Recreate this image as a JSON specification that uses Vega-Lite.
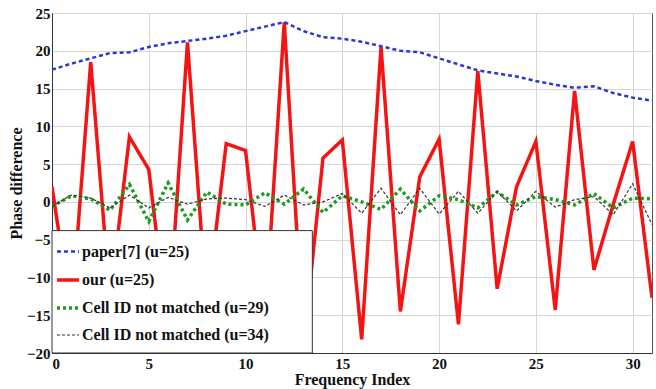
{
  "$schema": "https://vega.github.io/schema/vega-lite/v6.json",
  "autosize": {"type": "none"},
  "width": 600,
  "height": 340,
  "padding": {"left": 52, "top": 13, "right": 4, "bottom": 36},
  "background": "white",
  "config": {
    "view": {"stroke": "#555555", "strokeWidth": 1},
    "font": "Liberation Serif",
    "axis": {
      "labelFont": "Liberation Serif", "labelFontWeight": "bold", "labelFontSize": 15, "labelColor": "#111111",
      "titleFont": "Liberation Serif", "titleFontWeight": "bold", "titleFontSize": 16, "titleColor": "#111111",
      "gridColor": "#d6d6d6", "gridWidth": 1, "domainColor": "#333333", "tickSize": 0, "labelOverlap": false
    }
  },
  "datasets": {
    "pts": [
      {"x":0,"s":"our (u=25)","y":2.0},{"x":1,"s":"our (u=25)","y":-15},{"x":2,"s":"our (u=25)","y":18.5},{"x":3,"s":"our (u=25)","y":-13},
      {"x":4,"s":"our (u=25)","y":8.6},{"x":5,"s":"our (u=25)","y":4.3},{"x":6,"s":"our (u=25)","y":-17},{"x":7,"s":"our (u=25)","y":21.1},
      {"x":8,"s":"our (u=25)","y":-14},{"x":9,"s":"our (u=25)","y":7.7},{"x":10,"s":"our (u=25)","y":6.8},{"x":11,"s":"our (u=25)","y":-16},
      {"x":12,"s":"our (u=25)","y":23.8},{"x":13,"s":"our (u=25)","y":-19},{"x":14,"s":"our (u=25)","y":5.8},{"x":15,"s":"our (u=25)","y":8.2},
      {"x":16,"s":"our (u=25)","y":-18.2},{"x":17,"s":"our (u=25)","y":20.5},{"x":18,"s":"our (u=25)","y":-14.5},{"x":19,"s":"our (u=25)","y":3.3},
      {"x":20,"s":"our (u=25)","y":8.3},{"x":21,"s":"our (u=25)","y":-16.2},{"x":22,"s":"our (u=25)","y":17.3},{"x":23,"s":"our (u=25)","y":-11.5},
      {"x":24,"s":"our (u=25)","y":2.0},{"x":25,"s":"our (u=25)","y":8.0},{"x":26,"s":"our (u=25)","y":-14.3},{"x":27,"s":"our (u=25)","y":14.7},
      {"x":28,"s":"our (u=25)","y":-9.0},{"x":29,"s":"our (u=25)","y":-0.3},{"x":30,"s":"our (u=25)","y":8.0},{"x":31,"s":"our (u=25)","y":-12.7},

      {"x":0,"s":"paper[7]  (u=25)","y":17.5},{"x":1,"s":"paper[7]  (u=25)","y":18.3},{"x":2,"s":"paper[7]  (u=25)","y":19.0},{"x":3,"s":"paper[7]  (u=25)","y":19.7},
      {"x":4,"s":"paper[7]  (u=25)","y":19.8},{"x":5,"s":"paper[7]  (u=25)","y":20.5},{"x":6,"s":"paper[7]  (u=25)","y":21.0},{"x":7,"s":"paper[7]  (u=25)","y":21.3},
      {"x":8,"s":"paper[7]  (u=25)","y":21.6},{"x":9,"s":"paper[7]  (u=25)","y":22.0},{"x":10,"s":"paper[7]  (u=25)","y":22.6},{"x":11,"s":"paper[7]  (u=25)","y":23.2},
      {"x":12,"s":"paper[7]  (u=25)","y":23.8},{"x":13,"s":"paper[7]  (u=25)","y":22.6},{"x":14,"s":"paper[7]  (u=25)","y":21.8},{"x":15,"s":"paper[7]  (u=25)","y":21.6},
      {"x":16,"s":"paper[7]  (u=25)","y":21.2},{"x":17,"s":"paper[7]  (u=25)","y":20.6},{"x":18,"s":"paper[7]  (u=25)","y":20.0},{"x":19,"s":"paper[7]  (u=25)","y":19.8},
      {"x":20,"s":"paper[7]  (u=25)","y":19.0},{"x":21,"s":"paper[7]  (u=25)","y":18.2},{"x":22,"s":"paper[7]  (u=25)","y":17.4},{"x":23,"s":"paper[7]  (u=25)","y":17.0},
      {"x":24,"s":"paper[7]  (u=25)","y":16.6},{"x":25,"s":"paper[7]  (u=25)","y":16.0},{"x":26,"s":"paper[7]  (u=25)","y":15.5},{"x":27,"s":"paper[7]  (u=25)","y":15.1},
      {"x":28,"s":"paper[7]  (u=25)","y":15.3},{"x":29,"s":"paper[7]  (u=25)","y":14.4},{"x":30,"s":"paper[7]  (u=25)","y":13.8},{"x":31,"s":"paper[7]  (u=25)","y":13.4},

      {"x":0,"s":"Cell ID not matched (u=29)","y":-0.6},{"x":1,"s":"Cell ID not matched (u=29)","y":0.8},{"x":2,"s":"Cell ID not matched (u=29)","y":0.4},{"x":3,"s":"Cell ID not matched (u=29)","y":-1.1},
      {"x":4,"s":"Cell ID not matched (u=29)","y":2.3},{"x":5,"s":"Cell ID not matched (u=29)","y":-2.6},{"x":6,"s":"Cell ID not matched (u=29)","y":2.5},{"x":7,"s":"Cell ID not matched (u=29)","y":-2.4},
      {"x":8,"s":"Cell ID not matched (u=29)","y":1.3},{"x":9,"s":"Cell ID not matched (u=29)","y":-0.3},{"x":10,"s":"Cell ID not matched (u=29)","y":-0.4},{"x":11,"s":"Cell ID not matched (u=29)","y":1.2},
      {"x":12,"s":"Cell ID not matched (u=29)","y":-0.3},{"x":13,"s":"Cell ID not matched (u=29)","y":1.7},{"x":14,"s":"Cell ID not matched (u=29)","y":-1.4},{"x":15,"s":"Cell ID not matched (u=29)","y":0.8},
      {"x":16,"s":"Cell ID not matched (u=29)","y":0.0},{"x":17,"s":"Cell ID not matched (u=29)","y":-1.0},{"x":18,"s":"Cell ID not matched (u=29)","y":1.7},{"x":19,"s":"Cell ID not matched (u=29)","y":-1.2},
      {"x":20,"s":"Cell ID not matched (u=29)","y":0.8},{"x":21,"s":"Cell ID not matched (u=29)","y":0.3},{"x":22,"s":"Cell ID not matched (u=29)","y":-0.8},{"x":23,"s":"Cell ID not matched (u=29)","y":1.3},
      {"x":24,"s":"Cell ID not matched (u=29)","y":-0.4},{"x":25,"s":"Cell ID not matched (u=29)","y":0.7},{"x":26,"s":"Cell ID not matched (u=29)","y":0.3},{"x":27,"s":"Cell ID not matched (u=29)","y":-0.4},
      {"x":28,"s":"Cell ID not matched (u=29)","y":1.1},{"x":29,"s":"Cell ID not matched (u=29)","y":-0.8},{"x":30,"s":"Cell ID not matched (u=29)","y":0.5},{"x":31,"s":"Cell ID not matched (u=29)","y":0.4},

      {"x":0,"s":"Cell ID not matched (u=34)","y":-0.6},{"x":1,"s":"Cell ID not matched (u=34)","y":0.9},{"x":2,"s":"Cell ID not matched (u=34)","y":0.5},{"x":3,"s":"Cell ID not matched (u=34)","y":-0.8},
      {"x":4,"s":"Cell ID not matched (u=34)","y":0.9},{"x":5,"s":"Cell ID not matched (u=34)","y":-0.8},{"x":6,"s":"Cell ID not matched (u=34)","y":0.6},{"x":7,"s":"Cell ID not matched (u=34)","y":-0.3},
      {"x":8,"s":"Cell ID not matched (u=34)","y":0.4},{"x":9,"s":"Cell ID not matched (u=34)","y":0.5},{"x":10,"s":"Cell ID not matched (u=34)","y":0.3},{"x":11,"s":"Cell ID not matched (u=34)","y":-0.6},
      {"x":12,"s":"Cell ID not matched (u=34)","y":0.9},{"x":13,"s":"Cell ID not matched (u=34)","y":-0.4},{"x":14,"s":"Cell ID not matched (u=34)","y":0.0},{"x":15,"s":"Cell ID not matched (u=34)","y":1.1},
      {"x":16,"s":"Cell ID not matched (u=34)","y":-1.5},{"x":17,"s":"Cell ID not matched (u=34)","y":1.8},{"x":18,"s":"Cell ID not matched (u=34)","y":-1.7},{"x":19,"s":"Cell ID not matched (u=34)","y":1.8},
      {"x":20,"s":"Cell ID not matched (u=34)","y":-1.6},{"x":21,"s":"Cell ID not matched (u=34)","y":1.4},{"x":22,"s":"Cell ID not matched (u=34)","y":-1.5},{"x":23,"s":"Cell ID not matched (u=34)","y":1.4},
      {"x":24,"s":"Cell ID not matched (u=34)","y":-1.2},{"x":25,"s":"Cell ID not matched (u=34)","y":1.4},{"x":26,"s":"Cell ID not matched (u=34)","y":-0.7},{"x":27,"s":"Cell ID not matched (u=34)","y":0.3},
      {"x":28,"s":"Cell ID not matched (u=34)","y":0.7},{"x":29,"s":"Cell ID not matched (u=34)","y":-1.7},{"x":30,"s":"Cell ID not matched (u=34)","y":2.4},{"x":31,"s":"Cell ID not matched (u=34)","y":-3.0}
    ]
  },
  "layer": [
    {
      "data": {"name": "pts"},
      "mark": {"type": "line", "strokeCap": "butt", "strokeJoin": "miter", "clip": true},
      "encoding": {
        "x": {"field": "x", "type": "quantitative", "scale": {"domain": [0, 31], "nice": false, "zero": false},
              "axis": {"title": "Frequency Index", "values": [0,5,10,15,20,25,30], "labelPadding": 3, "titlePadding": 0, "grid": true}},
        "y": {"field": "y", "type": "quantitative", "scale": {"domain": [-20, 25], "nice": false},
              "axis": {"title": "Phase difference", "values": [-20,-15,-10,-5,0,5,10,15,20,25], "labelPadding": 2, "titlePadding": 2, "grid": true}},
        "detail": {"field": "s"},
        "color": {"field": "s", "type": "nominal",
          "scale": {"domain": ["paper[7]  (u=25)", "our (u=25)", "Cell ID not matched (u=29)", "Cell ID not matched (u=34)"],
                    "range": ["#2a35d8", "#f41414", "#1e9a1e", "#333333"]},
          "legend": {"title": null, "orient": "none", "legendX": 3, "legendY": 226, "padding": 0,
                     "labelFont": "Liberation Serif", "labelFontWeight": "bold", "labelFontSize": 16, "labelColor": "#111111",
                     "labelOffset": 1, "rowPadding": 7, "symbolType": "stroke", "symbolSize": 484, "labelLimit": 400}},
        "strokeDash": {"field": "s", "type": "nominal",
          "scale": {"type": "ordinal", "domain": ["paper[7]  (u=25)", "our (u=25)", "Cell ID not matched (u=29)", "Cell ID not matched (u=34)"],
                    "range": [[4, 3], [1, 0], [3, 3], [3, 2]]},
          "legend": {"title": null}},
        "strokeWidth": {"field": "s", "type": "nominal",
          "scale": {"type": "ordinal", "domain": ["paper[7]  (u=25)", "our (u=25)", "Cell ID not matched (u=29)", "Cell ID not matched (u=34)"],
                    "range": [2.5, 3.5, 3.5, 1.2]},
          "legend": {"title": null}}
      }
    },
    {
      "data": {"values": [{}]},
      "mark": {"type": "rect", "fill": "white", "stroke": "#333333", "strokeWidth": 1},
      "encoding": {
        "x": {"datum": 0, "type": "quantitative",
              "axis": {"title": "Frequency Index", "values": [0,5,10,15,20,25,30], "labelPadding": 3, "titlePadding": 0, "grid": true}},
        "x2": {"datum": 13.45},
        "y": {"datum": -20, "type": "quantitative",
              "axis": {"title": "Phase difference", "values": [-20,-15,-10,-5,0,5,10,15,20,25], "labelPadding": 2, "titlePadding": 2, "grid": true}},
        "y2": {"datum": -3.8}
      }
    }
  ]
}
